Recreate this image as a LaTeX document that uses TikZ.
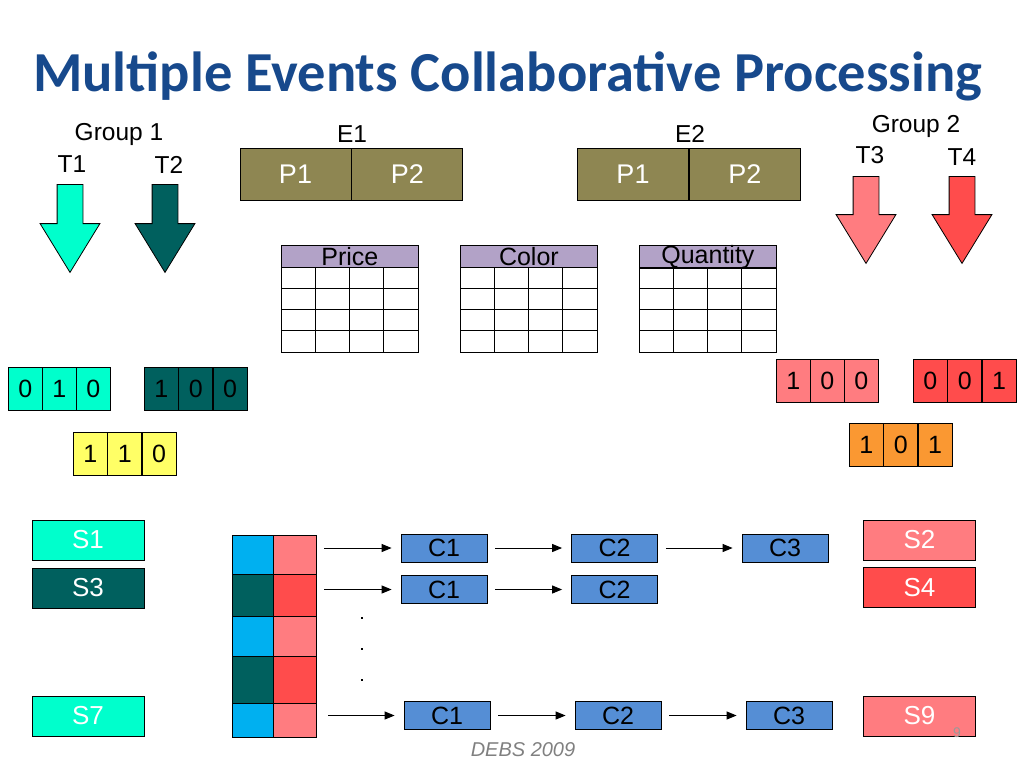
\documentclass[tikz,border=0pt]{standalone}
\usepackage{fontspec}
\setmainfont{Liberation Sans}
\newfontfamily\titlefont{Carlito}
\usetikzlibrary{arrows.meta, positioning, shapes.arrows}
\definecolor{titleblue}{RGB}{23, 73, 140}
\definecolor{olive}{RGB}{142, 134, 82}
\definecolor{lavender}{RGB}{178, 162, 199}
\definecolor{aqua}{RGB}{0, 255, 204}
\definecolor{darkteal}{RGB}{0, 96, 94}
\definecolor{pink}{RGB}{255, 124, 128}
\definecolor{brightred}{RGB}{255, 76, 76}
\definecolor{softyellow}{RGB}{255, 255, 102}
\definecolor{orange}{RGB}{250, 152, 50}
\definecolor{cblue}{RGB}{85, 142, 213}
\definecolor{skyblue}{RGB}{0, 176, 240}

\begin{document}
\begin{tikzpicture}[x=1pt, y=-1pt]%
        \tikzstyle{label} = [font=\fontsize{24.5}{26}\selectfont, inner sep=0pt]
        \tikzstyle{part} = [draw, fill=olive, text=white, minimum width=111pt, minimum height=52pt, inner sep=0pt, line width=0.8pt, font=\fontsize{27}{29}\selectfont]
        \tikzstyle{darrow} = [single arrow, draw, rotate=-90, anchor=tail, minimum height=88pt, minimum width=59pt, single arrow head extend=17pt, single arrow tip angle=63, inner xsep=0pt, inner ysep=12.5pt, line width=0.8pt]
        \tikzstyle{bitcell} = [draw, minimum width=34pt, minimum height=43pt, inner sep=0pt, anchor=north west, line width=0.8pt, font=\fontsize{25}{27}\selectfont]
        \tikzstyle{tabhead} = [draw, fill=lavender, minimum width=137pt, minimum height=22pt, inner sep=0pt, anchor=north west, line width=0.8pt, font=\fontsize{25}{27}\selectfont]
        \tikzstyle{sbox} = [draw, text=white, minimum width=112pt, minimum height=40pt, inner sep=0pt, line width=0.8pt, font=\fontsize{26}{28}\selectfont]
        \tikzstyle{cbox} = [draw, fill=cblue, minimum width=86pt, minimum height=28pt, inner sep=0pt, line width=0.8pt, font=\fontsize{25}{27}\selectfont]
        \tikzstyle{stackcell} = [draw, minimum width=41pt, inner sep=0pt, anchor=north west, line width=0.8pt]
        \tikzstyle{flow} = [-{Triangle[length=10pt, width=8pt]}, line width=1pt, shorten >=9pt]

        \useasboundingbox (0,0) rectangle (1024,768);

        % title
        \node[anchor=base west, inner sep=0pt, text=titleblue, font=\titlefont\bfseries\fontsize{56.5}{60}\selectfont] (title) at (33,91) {Multiple Events Collaborative Processing};

        % group 1
        \node[label] (group1) at (119,134) {Group 1};
        \node[darrow, fill=aqua] (arrowT1) at (70,184) {};
        \node[darrow, fill=darkteal] (arrowT2) at (165,184) {};
        \node[label] (T1) at (72,164) {T1};
        \node[label] (T2) at (169,165) {T2};

        % group 2
        \node[label] (group2) at (916,126) {Group 2};
        \node[darrow, fill=pink, minimum height=87pt] (arrowT3) at (866,176) {};
        \node[darrow, fill=brightred, minimum height=87pt] (arrowT4) at (962,176) {};
        \node[label] (T3) at (870,155) {T3};
        \node[label] (T4) at (962,157) {T4};

        % events
        \node[part] (e1p1) at (295.5,174) {P1};
        \node[part, right=0pt of e1p1] (e1p2) {P2};
        \node[label] (E1) at (352,134) {E1};
        \node[part] (e2p1) at (633,174) {P1};
        \node[part, right=0pt of e2p1] (e2p2) {P2};
        \node[label] (E2) at (690,134) {E2};

        % attribute tables
        \foreach \x/\name/\txt in {281/price/Price, 460/color/Color, 639/quantity/Quantity}{
          \node[tabhead] (\name) at (\x,245) {\raisebox{-3pt}{\txt}};
          \draw[line width=0.8pt] (\x,267) rectangle (\x+137,352);
          \foreach \i in {1,2,3}{
            \draw[line width=0.8pt] (\x+34.25*\i,267) -- (\x+34.25*\i,352);
            \draw[line width=0.8pt] (\x,267+21.25*\i) -- (\x+137,267+21.25*\i);
          }
        }

        % bit vectors
        \foreach \b [count=\i from 0] in {0,1,0}{
          \node[bitcell, fill=aqua] (bitA\i) at ({8+34*\i},367) {\b};
        }
        \foreach \b [count=\i from 0] in {1,0,0}{
          \node[bitcell, fill=darkteal] (bitB\i) at ({144+34.3*\i},367) {\b};
        }
        \foreach \b [count=\i from 0] in {1,1,0}{
          \node[bitcell, fill=softyellow] (bitC\i) at ({73+34.3*\i},432) {\b};
        }
        \foreach \b [count=\i from 0] in {1,0,0}{
          \node[bitcell, fill=pink] (bitD\i) at ({776+34*\i},359) {\b};
        }
        \foreach \b [count=\i from 0] in {0,0,1}{
          \node[bitcell, fill=brightred] (bitE\i) at ({913+34.3*\i},359) {\b};
        }
        \foreach \b [count=\i from 0] in {1,0,1}{
          \node[bitcell, fill=orange] (bitF\i) at ({849+34.3*\i},423) {\b};
        }

        % subscriptions
        \node[sbox, fill=aqua] (S1) at (88,540) {S1};
        \node[sbox, fill=darkteal] (S3) at (88,588) {S3};
        \node[sbox, fill=aqua] (S7) at (88,716) {S7};
        \node[sbox, fill=pink] (S2) at (919.5,540) {S2};
        \node[sbox, fill=brightred] (S4) at (919.5,587.5) {S4};
        \node[sbox, fill=pink] (S9) at (919.5,716) {S9};

        % stack of pairs
        \foreach \top/\h/\lcol/\rcol [count=\r] in {535/39/skyblue/pink, 574/42/darkteal/brightred, 616/40/skyblue/pink, 656/47/darkteal/brightred, 703/34/skyblue/pink}{
          \node[stackcell, fill=\lcol, minimum height=\h pt] (stackL\r) at (232,\top) {};
          \node[stackcell, fill=\rcol, minimum height=\h pt, minimum width=43pt] (stackR\r) at (273,\top) {};
        }

        % chains
        \node[cbox] (c11) at (444,548) {C1};
        \node[cbox] (c12) at (614.5,548) {C2};
        \node[cbox] (c13) at (785,548) {C3};
        \node[cbox] (c21) at (444,589.5) {C1};
        \node[cbox] (c22) at (614.5,589.5) {C2};
        \node[cbox] (c31) at (447,715.5) {C1};
        \node[cbox] (c32) at (618,715.5) {C2};
        \node[cbox] (c33) at (789,715.5) {C3};

        \coordinate (in1) at (324,548);
        \coordinate (in2) at (324,589.5);
        \coordinate (in3) at (328,715.5);
        \draw[flow] (in1) -- (c11);
        \draw[flow] (in2) -- (c21);
        \draw[flow] (in3) -- (c31);
        \draw[flow, shorten <=8pt] (c11) -- (c12);
        \draw[flow, shorten <=8pt] (c12) -- (c13);
        \draw[flow, shorten <=8pt] (c21) -- (c22);
        \draw[flow, shorten <=8pt] (c31) -- (c32);
        \draw[flow, shorten <=8pt] (c32) -- (c33);

        \foreach \y [count=\d] in {618,649,680}{
          \node[rectangle, fill, inner sep=1.4pt] (dot\d) at (362,\y) {};
        }

        % footer
        \node[text=gray, font=\itshape\fontsize{20}{22}\selectfont] (footer) at (523,750) {DEBS 2009};
        \node[text=gray!80, font=\fontsize{14}{16}\selectfont] (pagenum) at (957,733) {9};
      \end{tikzpicture}
\end{document}
